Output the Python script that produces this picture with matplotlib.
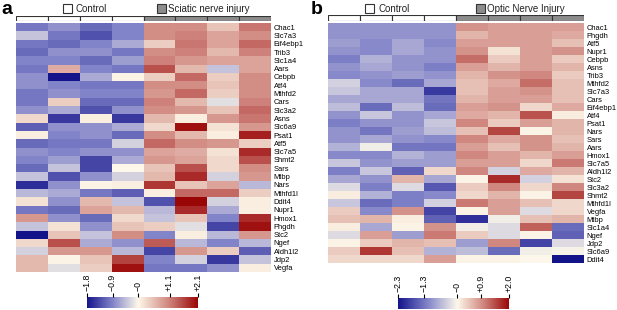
import matplotlib
matplotlib.use("Agg")
import matplotlib.pyplot as plt
import numpy as np
from matplotlib.colors import LinearSegmentedColormap, Normalize
from matplotlib.patches import Rectangle

plt.rcParams["font.family"] = ["Liberation Sans", "DejaVu Sans"]

# ---- panel a: sciatic nerve injury ----
genes_a = ["Chac1", "Slc7a3", "Eif4ebp1", "Trib3", "Slc1a4", "Aars", "Cebpb", "Atf4",
           "Mthfd2", "Cars", "Slc3a2", "Asns", "Slc6a9", "Psat1", "Atf5", "Slc7a5",
           "Shmt2", "Sars", "Mtbp", "Nars", "Mthfd1l", "Ddit4", "Nupr1", "Hmox1",
           "Phgdh", "Stc2", "Ngef", "Aldh1l2", "Jdp2", "Vegfa"]
values_a = [
    [-1.0, -0.8, -1.1, -0.9, 1.0, 1.0, 0.5, 1.2],
    [-0.4, -1.0, -1.3, -0.9, 1.0, 1.1, 0.8, 1.0],
    [-1.0, -1.1, -0.9, -0.6, 0.4, 1.2, 0.8, 1.3],
    [-1.1, -0.8, -0.8, -1.0, 1.0, 1.1, 0.6, 1.1],
    [-0.9, -0.9, -1.1, -0.7, 1.1, 0.9, 0.8, 0.8],
    [-1.0, 0.7, -0.9, -1.0, 1.5, 0.6, -0.4, 0.8],
    [-0.8, -1.8, -0.6, 0.05, 0.4, 1.3, 0.4, 1.0],
    [-0.8, -0.9, -1.0, -1.0, 1.0, 1.0, 0.5, 1.0],
    [-1.0, -0.8, -0.9, -0.9, 0.9, 1.3, 0.4, 1.0],
    [-1.0, 0.4, -1.1, -1.1, 1.1, 0.6, -0.2, 1.1],
    [-0.8, -0.6, -1.3, -0.8, 1.0, 0.9, 0.5, 1.3],
    [0.3, -1.5, 0.1, -1.5, 0.6, 0.1, 0.9, 1.2],
    [-1.2, -0.8, -0.8, -0.6, 0.3, 2.0, 0.2, 0.9],
    [0.1, -0.9, -0.8, -1.1, 1.0, 0.6, 0.1, 1.9],
    [-1.1, -1.0, -1.0, -0.3, 1.3, 1.0, 0.9, 0.4],
    [-0.8, -0.9, -0.8, -0.8, 0.8, 0.7, 0.2, 1.8],
    [-0.9, -0.7, -1.4, -0.6, 0.9, 0.8, 0.3, 1.5],
    [-1.1, -0.4, -1.4, 0.0, 0.5, 1.5, 0.3, 1.0],
    [-0.4, -1.3, -0.8, -0.3, 0.6, 1.8, -0.3, 0.9],
    [-1.6, -0.8, 0.05, 0.1, 1.7, 0.5, 0.8, -0.5],
    [-0.5, -0.6, -1.0, -1.2, 0.1, 1.3, 1.3, 0.4],
    [0.2, -0.8, 0.6, -0.4, -1.3, 2.1, -0.3, 0.1],
    [-1.0, -1.1, 0.8, 0.6, -0.5, 1.8, -0.6, 0.1],
    [0.9, -0.8, -1.1, 0.3, -0.4, 0.5, -0.9, 1.8],
    [-0.4, 0.2, -0.8, 0.5, 0.4, -0.2, -1.4, 2.0],
    [-1.8, 0.5, -0.4, 1.0, -0.9, 0.1, -0.5, 0.9],
    [0.3, 1.5, -0.6, -0.8, 1.4, -0.5, -0.9, -0.5],
    [-0.3, 0.9, 0.9, -0.5, -1.4, 0.9, 0.4, -1.2],
    [0.6, 0.05, 0.5, 1.6, -0.9, -0.3, -1.5, -0.4],
    [0.6, -0.2, 0.4, 2.0, -1.0, -1.0, -0.8, 0.1],
]
ticks_a = [-1.8, -0.9, 0, 1.1, 2.1]
ticklabels_a = ["\u22121.8", "\u22120.9", "\u22120", "+1.1", "+2.1"]

# ---- panel b: optic nerve injury ----
genes_b = ["Chac1", "Phgdh", "Atf5", "Nupr1", "Cebpb", "Asns", "Trib3", "Mthfd2",
           "Slc7a3", "Cars", "Eif4ebp1", "Atf4", "Psat1", "Nars", "Sars", "Aars",
           "Hmox1", "Slc7a5", "Aldh1l2", "Stc2", "Slc3a2", "Shmt2", "Mthfd1l", "Vegfa",
           "Mtbp", "Slc1a4", "Ngef", "Jdp2", "Slc6a9", "Ddit4"]
values_b = [
    [-1.0, -1.0, -1.0, -1.0, 0.9, 0.8, 0.8, 0.8],
    [-1.0, -1.0, -1.0, -1.0, 0.6, 0.8, 0.8, 0.7],
    [-0.9, -1.1, -0.8, -1.1, 0.8, 0.8, 0.8, 0.5],
    [-1.0, -1.1, -0.8, -1.0, 0.9, 0.2, 0.8, 0.9],
    [-1.2, -0.7, -1.0, -1.0, 1.2, 0.4, 0.8, 0.4],
    [-1.0, -0.8, -1.0, -1.2, 0.8, 0.6, 0.8, 0.6],
    [-1.1, -1.0, -0.9, -1.0, 0.6, 0.9, 1.0, 0.4],
    [-0.4, -1.1, -1.4, -0.8, 0.5, 0.7, 1.2, 0.5],
    [-0.5, -0.8, -0.8, -1.9, 0.5, 0.8, 0.9, 0.5],
    [-0.8, -0.8, -0.8, -1.3, 0.6, 0.8, 0.8, 0.5],
    [-0.6, -1.4, -0.6, -1.4, 0.8, 0.9, 0.3, 0.7],
    [-1.0, -0.5, -1.0, -0.8, 0.7, 0.6, 1.4, 0.1],
    [-1.2, -1.0, -1.0, -0.5, 1.0, 0.4, 0.8, 0.6],
    [-1.0, -1.3, -0.9, -0.6, 0.5, 1.5, 0.05, 0.6],
    [-1.0, -0.8, -1.0, -1.1, 1.0, 0.7, 0.9, 0.5],
    [-0.7, -0.1, -1.3, -1.3, 0.8, 0.5, 0.9, 0.6],
    [-1.1, -1.1, -0.7, -0.9, 1.0, 0.8, 0.6, 0.8],
    [-0.5, -1.0, -0.9, -0.9, 0.8, 0.8, 0.3, 1.1],
    [-1.2, -0.5, -1.5, 0.3, 1.0, -0.4, 0.7, 0.6],
    [-0.8, -1.0, 0.6, -0.8, 0.05, 1.7, -0.4, 0.2],
    [-0.3, -1.2, -0.3, -1.6, 0.4, 1.0, 0.3, 1.0],
    [0.1, -0.7, -1.2, -1.1, 0.3, 0.6, 0.05, 1.5],
    [-0.5, -1.4, -1.2, -0.4, 1.1, 0.8, 0.5, 0.3],
    [0.4, -1.1, 0.9, -1.8, 0.05, 0.8, -0.3, 0.3],
    [0.5, 0.6, 0.1, -1.5, -2.0, -0.1, 0.5, 0.6],
    [0.1, -0.8, 0.05, 0.9, -0.1, -0.3, 1.3, -1.4],
    [-0.3, 0.8, -0.9, 1.1, 0.4, -0.3, 0.05, -1.5],
    [0.05, 0.4, 0.6, 0.5, -0.9, 1.0, -1.8, -0.3],
    [0.4, 1.6, 0.5, -0.7, -0.6, -1.4, -0.1, -0.05],
    [0.3, 0.3, 0.3, 0.8, 0.05, 0.05, 0.0, -2.3],
]
ticks_b = [-2.3, -1.3, 0, 0.9, 2.0]
ticklabels_b = ["\u22122.3", "\u22121.3", "\u22120", "+0.9", "+2.0"]

groups = ["Control"] * 4 + ["Injury"] * 4

W, H = 617, 310


def fax(fig, x0, y0, x1, y1):
    # pixel box -> figure axes
    return fig.add_axes([x0 / W, 1 - y1 / H, (x1 - x0) / W, (y1 - y0) / H])


def make_cmap(vmin, vmax):
    mid = (0 - vmin) / (vmax - vmin)
    return LinearSegmentedColormap.from_list(
        "bwr_ivory", [(0, "#14148a"), (mid / 2, "#8284c9"), (mid, "#fdf8ea"),
                      ((1 + mid) / 2, "#d08880"), (1, "#9a0606")])


def legend_box(fig, x, fc):
    fig.patches.append(Rectangle((x / W, 1 - 13 / H), 9 / W, 9 / H,
                                 transform=fig.transFigure, facecolor=fc,
                                 edgecolor="#333333", lw=0.8))


def draw_panel(fig, genes, values, ticks, ticklabels, box, bar_box, cbar_box,
               letter, letter_x, legend_x, injury_label):
    vals = np.array(values)
    vmin, vmax = ticks[0], ticks[-1]
    cmap = make_cmap(vmin, vmax)
    norm = Normalize(vmin=vmin, vmax=vmax)

    ax = fax(fig, *box)
    mesh = ax.pcolormesh(vals, cmap=cmap, norm=norm)
    ax.set_ylim(len(genes), 0)
    ax.set_xlim(0, vals.shape[1])
    ax.set_xticks([])
    ax.yaxis.tick_right()
    ax.set_yticks(np.arange(len(genes)) + 0.5)
    ax.set_yticklabels(genes, fontsize=5.4)
    ax.tick_params(axis="y", length=0, pad=2)
    for s in ax.spines.values():
        s.set_visible(False)

    # sample annotation bar
    bax = fax(fig, *bar_box)
    for i, g in enumerate(groups):
        fc = "white" if g == "Control" else "#8c8c8c"
        bax.add_patch(Rectangle((i, 0), 1, 1, facecolor=fc, edgecolor="#333333", lw=0.8))
    bax.set_xlim(0, len(groups))
    bax.set_ylim(0, 1)
    bax.axis("off")

    # legend on top
    legend_box(fig, legend_x[0], "white")
    fig.text((legend_x[0] + 13) / W, 1 - 9 / H, "Control", fontsize=7,
             ha="left", va="center", color="#222222")
    legend_box(fig, legend_x[1], "#8c8c8c")
    fig.text((legend_x[1] + 11) / W, 1 - 9 / H, injury_label, fontsize=7,
             ha="left", va="center", color="#222222")

    fig.text(letter_x / W, 1 - 10 / H, letter, fontsize=14, fontweight="bold",
             ha="left", va="center")

    # colour key
    cax = fax(fig, *cbar_box)
    cb = fig.colorbar(mesh, cax=cax, orientation="horizontal", ticks=ticks)
    cb.outline.set_visible(False)
    cax.xaxis.set_ticks_position("top")
    cax.set_xticklabels(ticklabels, rotation=90, fontsize=6.3)
    cax.tick_params(axis="x", length=3, width=0.8, pad=1)


fig = plt.figure(figsize=(W / 100, H / 100), dpi=100)

draw_panel(fig, genes_a, values_a, ticks_a, ticklabels_a,
           box=(16, 23, 271, 272), bar_box=(16, 16, 271, 21),
           cbar_box=(87, 297, 198, 308), letter="a", letter_x=1,
           legend_x=(63, 157), injury_label="Sciatic nerve injury")
draw_panel(fig, genes_b, values_b, ticks_b, ticklabels_b,
           box=(328, 23, 584, 263), bar_box=(328, 15, 584, 21),
           cbar_box=(398, 298, 509, 309), letter="b", letter_x=311,
           legend_x=(365, 476), injury_label="Optic Nerve Injury")

fig.savefig("out.png", dpi=100)
